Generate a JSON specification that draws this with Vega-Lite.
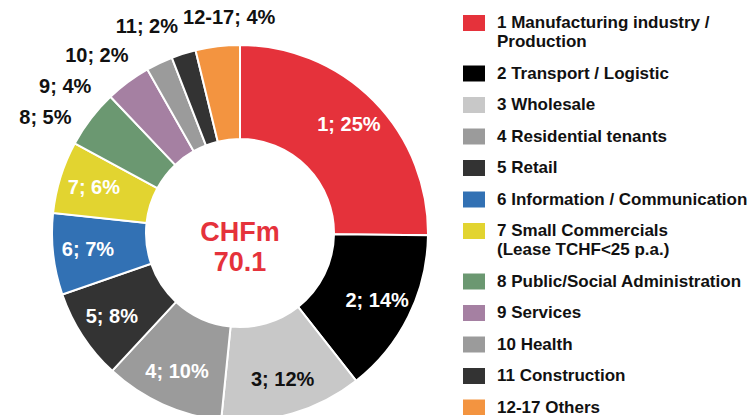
{
  "$schema": "https://vega.github.io/schema/vega-lite/v6.json",
  "width": 480,
  "height": 466,
  "padding": 0,
  "autosize": {"type": "pad"},
  "background": "white",
  "view": {"stroke": null},
  "config": {"text": {"font": "Liberation Sans"}},
  "data": {"values": [
    {"id": 1, "category": "1 Manufacturing industry / Production", "value": 25.2, "label": "1; 25%"},
    {"id": 2, "category": "2 Transport / Logistic", "value": 14.2, "label": "2; 14%"},
    {"id": 3, "category": "3 Wholesale", "value": 12.2, "label": "3; 12%"},
    {"id": 4, "category": "4 Residential tenants", "value": 10.3, "label": "4; 10%"},
    {"id": 5, "category": "5 Retail", "value": 7.8, "label": "5; 8%"},
    {"id": 6, "category": "6 Information / Communication", "value": 7.0, "label": "6; 7%"},
    {"id": 7, "category": "7 Small Commercials (Lease TCHF<25 p.a.)", "value": 6.2, "label": "7; 6%"},
    {"id": 8, "category": "8 Public/Social Administration", "value": 5.0, "label": "8; 5%"},
    {"id": 9, "category": "9 Services", "value": 3.9, "label": "9; 4%"},
    {"id": 10, "category": "10 Health", "value": 2.3, "label": "10; 2%"},
    {"id": 11, "category": "11 Construction", "value": 2.1, "label": "11; 2%"},
    {"id": 12, "category": "12-17 Others", "value": 3.8, "label": "12-17; 4%"}
  ]},
  "layer": [
    {
      "mark": {"type": "arc", "outerRadius": 188, "innerRadius": 94, "stroke": "white", "strokeWidth": 2},
      "encoding": {
        "theta": {"field": "value", "type": "quantitative", "stack": true},
        "order": {"field": "id", "type": "quantitative"},
        "color": {
          "field": "category", "type": "nominal",
          "scale": {
            "domain": ["1 Manufacturing industry / Production", "2 Transport / Logistic", "3 Wholesale", "4 Residential tenants", "5 Retail", "6 Information / Communication", "7 Small Commercials (Lease TCHF<25 p.a.)", "8 Public/Social Administration", "9 Services", "10 Health", "11 Construction", "12-17 Others"],
            "range": ["#E5323B", "#000000", "#C8C8C8", "#9B9B9B", "#333333", "#3271B4", "#E2D430", "#6B9871", "#A580A2", "#9B9B9B", "#333333", "#F39440"]
          },
          "legend": {
            "orient": "none", "legendX": 463, "legendY": 12,
            "title": null,
            "symbolType": "M-1,-0.727H1V0.727H-1Z",
            "symbolSize": 484,
            "symbolStrokeWidth": 0,
            "symbolOpacity": 1,
            "labelFont": "Liberation Sans",
            "labelFontSize": 17,
            "labelFontWeight": "bold",
            "labelColor": "#111111",
            "labelOffset": 12,
            "labelLimit": 400,
            "rowPadding": 12.5,
            "labelExpr": "datum.label == '1 Manufacturing industry / Production' ? ['1 Manufacturing industry /', 'Production'] : datum.label == '7 Small Commercials (Lease TCHF<25 p.a.)' ? ['7 Small Commercials', '(Lease TCHF<25 p.a.)'] : datum.label"
          }
        }
      }
    },
    {
      "mark": {"type": "text", "radius": 153, "fontSize": 20, "fontWeight": "bold"},
      "encoding": {
        "theta": {"field": "value", "type": "quantitative", "stack": true},
        "order": {"field": "id", "type": "quantitative"},
        "text": {"condition": {"test": "datum.id <= 7", "field": "label"}, "value": ""},
        "color": {"condition": {"test": "datum.id == 3", "value": "#111111"}, "value": "white"}
      }
    },
    {
      "mark": {"type": "text", "radius": 226, "thetaOffset": -0.12, "fontSize": 20, "fontWeight": "bold", "color": "#111111"},
      "encoding": {
        "theta": {"field": "value", "type": "quantitative", "stack": true},
        "order": {"field": "id", "type": "quantitative"},
        "text": {"condition": {"test": "datum.id == 8 || datum.id == 11", "field": "label"}, "value": ""}
      }
    },
    {
      "mark": {"type": "text", "radius": 228, "thetaOffset": -0.236, "fontSize": 20, "fontWeight": "bold", "color": "#111111"},
      "encoding": {
        "theta": {"field": "value", "type": "quantitative", "stack": true},
        "order": {"field": "id", "type": "quantitative"},
        "text": {"condition": {"test": "datum.id == 9 || datum.id == 10", "field": "label"}, "value": ""}
      }
    },
    {
      "mark": {"type": "text", "radius": 222, "thetaOffset": -0.14, "align": "left", "fontSize": 20, "fontWeight": "bold", "color": "#111111"},
      "encoding": {
        "theta": {"field": "value", "type": "quantitative", "stack": true},
        "order": {"field": "id", "type": "quantitative"},
        "text": {"condition": {"test": "datum.id == 12", "field": "label"}, "value": ""}
      }
    },
    {
      "data": {"values": [{"center": "CHFm\n70.1"}]},
      "mark": {"type": "text", "lineBreak": "\n", "lineHeight": 30, "fontSize": 27, "fontWeight": "bold", "color": "#E5323B"},
      "encoding": {"text": {"field": "center"}}
    }
  ]
}
